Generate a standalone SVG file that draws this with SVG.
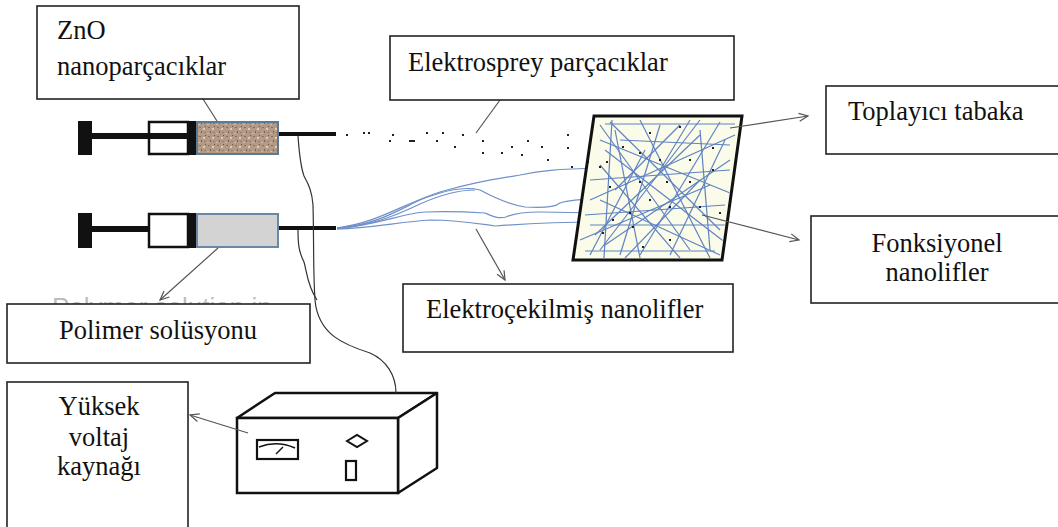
<svg xmlns="http://www.w3.org/2000/svg" width="1058" height="527" viewBox="0 0 1058 527">
  <style>
    .box { fill: #fff; stroke: #222; stroke-width: 1.6; }
    .lbl { font-family: "Liberation Serif", "Times New Roman", serif; font-size: 26.5px; fill: #111; }
    .ghost { font-family: "Liberation Sans", Arial, sans-serif; font-size: 26px; fill: #bdbdbd; }
    .ptr { fill: none; stroke: #555; stroke-width: 1.2; }
    .wire { fill: none; stroke: #333; stroke-width: 1.2; }
    .fib { fill: none; stroke: #6f90c8; stroke-width: 1.2; }
    .mesh line { stroke: #5f83c2; stroke-width: 1.2; }
    .dot { fill: #222; }
    .blk { fill: #111; }
  </style>
  <defs>
    <marker id="head" markerWidth="12" markerHeight="12" refX="10" refY="5" orient="auto" markerUnits="userSpaceOnUse">
      <path d="M1,1 L10,5 L1,9" fill="none" stroke="#555" stroke-width="1.2"/>
    </marker>
    <pattern id="grain" width="9" height="9" patternUnits="userSpaceOnUse">
      <rect width="9" height="9" fill="#b39a86"/>
      <rect x="1" y="1" width="2" height="1" fill="#8c6d58"/>
      <rect x="5" y="2" width="2" height="2" fill="#d9cbbd"/>
      <rect x="3" y="5" width="1" height="2" fill="#7d604d"/>
      <rect x="6" y="6" width="2" height="1" fill="#9a7c67"/>
      <rect x="0" y="7" width="2" height="1" fill="#cdb9a7"/>
      <rect x="7" y="0" width="1" height="1" fill="#6f5443"/>
    </pattern>
    <clipPath id="plateClip">
      <polygon points="596,118 740,118 720,258 575,258"/>
    </clipPath>
    <clipPath id="aboveBox">
      <rect x="0" y="280" width="320" height="24"/>
    </clipPath>
  </defs>

  <!-- faint leftover caption, only its upper edge shows above the solution label -->
  <text class="ghost" x="52" y="316" clip-path="url(#aboveBox)">Polymer solution in</text>

  <!-- syringe loaded with ZnO dispersion -->
  <g id="syringe-zno">
    <rect class="blk" x="78" y="121" width="14" height="34"/>
    <rect class="blk" x="92" y="133" width="100" height="6"/>
    <rect x="149" y="122" width="39" height="32" fill="#fff" stroke="#111" stroke-width="2.5"/>
    <rect class="blk" x="149" y="133" width="40" height="6"/>
    <rect class="blk" x="188" y="121" width="9" height="34"/>
    <rect x="197" y="122" width="81" height="32" fill="url(#grain)" stroke="#5d7a94" stroke-width="2"/>
    <rect class="blk" x="279" y="132" width="57" height="4"/>
  </g>

  <!-- syringe loaded with polymer solution -->
  <g id="syringe-polymer">
    <rect class="blk" x="78" y="213" width="14" height="35"/>
    <rect class="blk" x="92" y="226" width="100" height="6"/>
    <rect x="149" y="214" width="39" height="33" fill="#fff" stroke="#111" stroke-width="2.5"/>
    <rect class="blk" x="188" y="213" width="9" height="35"/>
    <rect x="197" y="214" width="81" height="33" fill="#d3d3d3" stroke="#6b87a8" stroke-width="2"/>
    <rect class="blk" x="279" y="226" width="57" height="4"/>
  </g>

  <!-- electrosprayed droplets -->
  <g id="spray">
    <rect class="dot" x="346" y="134" width="2" height="2"/>
    <rect class="dot" x="363" y="132" width="2" height="2"/>
    <rect class="dot" x="368" y="132" width="2" height="2"/>
    <rect class="dot" x="392" y="134" width="2" height="2"/>
    <rect class="dot" x="389" y="140" width="2" height="2"/>
    <rect class="dot" x="409" y="140" width="6" height="2"/>
    <rect class="dot" x="426" y="132" width="2" height="2"/>
    <rect class="dot" x="442" y="132" width="2" height="2"/>
    <rect class="dot" x="436" y="140" width="2" height="2"/>
    <rect class="dot" x="462" y="134" width="2" height="2"/>
    <rect class="dot" x="482" y="140" width="2" height="2"/>
    <rect class="dot" x="454" y="146" width="2" height="2"/>
    <rect class="dot" x="482" y="152" width="2" height="2"/>
    <rect class="dot" x="501" y="152" width="2" height="2"/>
    <rect class="dot" x="511" y="146" width="2" height="2"/>
    <rect class="dot" x="521" y="154" width="2" height="2"/>
    <rect class="dot" x="527" y="140" width="2" height="2"/>
    <rect class="dot" x="541" y="146" width="2" height="2"/>
    <rect class="dot" x="547" y="159" width="2" height="2"/>
    <rect class="dot" x="567" y="134" width="2" height="2"/>
    <rect class="dot" x="567" y="147" width="2" height="2"/>
    <rect class="dot" x="571" y="166" width="2" height="2"/>
  </g>

  <!-- electrospun jets -->
  <g id="jets">
    <path class="fib" d="M337,228 C380,222 400,205 440,192 C470,183 490,180 520,175 C540,171 555,169 600,168"/>
    <path class="fib" d="M337,228 C375,225 395,212 420,200 C445,190 465,186 480,190 C495,198 510,205 525,207 C540,208 555,207 560,203 C566,200 580,200 600,198"/>
    <path class="fib" d="M337,229 C380,224 405,213 425,212 C450,211 470,212 485,213 C492,216 498,219 506,217 C515,213 525,212 540,212 L600,213"/>
    <path class="fib" d="M337,229 C370,228 400,222 430,220 C460,220 480,224 495,226 C520,224 560,222 600,222"/>
    <path class="fib" d="M337,228 C370,226 395,216 420,204 C440,195 460,190 475,190"/>
  </g>

  <!-- collector plate with deposited fibre mesh -->
  <g id="collector">
    <polygon points="594,116 742,116 722,260 573,260" fill="#fbfbe9"/>
    <g class="mesh" clip-path="url(#plateClip)">
      <line x1="600" y1="125" x2="690" y2="250"/>
      <line x1="610" y1="122" x2="720" y2="230"/>
      <line x1="700" y1="120" x2="600" y2="250"/>
      <line x1="735" y1="135" x2="590" y2="200"/>
      <line x1="615" y1="130" x2="640" y2="258"/>
      <line x1="660" y1="125" x2="620" y2="255"/>
      <line x1="720" y1="122" x2="640" y2="255"/>
      <line x1="590" y1="180" x2="730" y2="170"/>
      <line x1="585" y1="215" x2="725" y2="205"/>
      <line x1="580" y1="240" x2="710" y2="185"/>
      <line x1="605" y1="150" x2="735" y2="250"/>
      <line x1="640" y1="120" x2="710" y2="258"/>
      <line x1="595" y1="235" x2="700" y2="135"/>
      <line x1="600" y1="200" x2="720" y2="255"/>
      <line x1="620" y1="140" x2="730" y2="145"/>
      <line x1="700" y1="130" x2="710" y2="250"/>
      <line x1="645" y1="150" x2="590" y2="255"/>
      <line x1="585" y1="251" x2="715" y2="251"/>
      <line x1="600" y1="165" x2="680" y2="258"/>
      <line x1="730" y1="160" x2="605" y2="245"/>
      <line x1="660" y1="170" x2="690" y2="120"/>
      <line x1="590" y1="225" x2="735" y2="225"/>
      <line x1="615" y1="190" x2="680" y2="125"/>
      <line x1="670" y1="255" x2="725" y2="140"/>
      <line x1="600" y1="140" x2="735" y2="195"/>
      <line x1="625" y1="258" x2="700" y2="180"/>
      <line x1="605" y1="124" x2="735" y2="124"/>
      <line x1="612" y1="120" x2="604" y2="258"/>
    </g>
    <g class="dot">
      <rect x="679" y="126" width="2" height="2"/>
      <rect x="649" y="132" width="2" height="2"/>
      <rect x="622" y="146" width="2" height="2"/>
      <rect x="639" y="152" width="2" height="2"/>
      <rect x="659" y="159" width="2" height="2"/>
      <rect x="689" y="159" width="2" height="2"/>
      <rect x="606" y="161" width="2" height="2"/>
      <rect x="712" y="147" width="2" height="2"/>
      <rect x="712" y="169" width="2" height="2"/>
      <rect x="639" y="181" width="2" height="2"/>
      <rect x="666" y="181" width="2" height="2"/>
      <rect x="689" y="181" width="2" height="2"/>
      <rect x="649" y="199" width="2" height="2"/>
      <rect x="669" y="206" width="2" height="2"/>
      <rect x="699" y="206" width="2" height="2"/>
      <rect x="719" y="212" width="2" height="2"/>
      <rect x="629" y="212" width="2" height="2"/>
      <rect x="612" y="219" width="2" height="2"/>
      <rect x="602" y="232" width="2" height="2"/>
      <rect x="632" y="226" width="2" height="2"/>
      <rect x="669" y="239" width="2" height="2"/>
      <rect x="642" y="246" width="2" height="2"/>
      <rect x="609" y="186" width="2" height="2"/>
      <rect x="587" y="161" width="2" height="2"/>
      <rect x="599" y="166" width="2" height="2"/>
    </g>
    <polygon points="594,116 742,116 722,260 573,260" fill="none" stroke="#111" stroke-width="3"/>
  </g>

  <!-- high voltage supply -->
  <g id="power-supply">
    <polygon points="237,418 275,393 437,393 398,418" fill="#fff" stroke="#111" stroke-width="2.5" stroke-linejoin="round"/>
    <polygon points="398,418 437,393 437,468 398,493" fill="#fff" stroke="#111" stroke-width="2.5" stroke-linejoin="round"/>
    <rect x="237" y="418" width="161" height="75" fill="#fff" stroke="#111" stroke-width="2.5"/>
    <rect x="257" y="440" width="41" height="19" fill="#fff" stroke="#111" stroke-width="2.2"/>
    <path d="M259,447 Q277,440 295,448" fill="none" stroke="#111" stroke-width="1.5"/>
    <line x1="276" y1="454" x2="283" y2="447" stroke="#111" stroke-width="1.5"/>
    <polygon points="347,441 357,435 367,441 357,447" fill="#fff" stroke="#111" stroke-width="2"/>
    <rect x="346" y="461" width="10" height="19" fill="#fff" stroke="#111" stroke-width="2.2"/>
  </g>

  <!-- connectors: leads and pointer arrows -->
  <g id="connectors">
    <path class="wire" d="M298,136 C299,150 300,165 304,176 C309,185 312,192 313,205 C314,240 313,270 315,300 C318,335 345,345 370,353 C386,360 396,375 396,393"/>
    <path class="wire" d="M298,230 C298,245 299,252 304,262 C307,272 307,285 317,300"/>
    <line class="ptr" x1="203" y1="99" x2="217" y2="121"/>
    <line class="ptr" x1="500" y1="100" x2="476" y2="133"/>
    <line class="ptr" x1="730" y1="128" x2="808" y2="116" marker-end="url(#head)"/>
    <line class="ptr" x1="702" y1="215" x2="799" y2="240" marker-end="url(#head)"/>
    <line class="ptr" x1="476" y1="229" x2="505" y2="280" marker-end="url(#head)"/>
    <line class="ptr" x1="218" y1="248" x2="160" y2="300" marker-end="url(#head)"/>
    <line class="ptr" x1="248" y1="433" x2="190" y2="415" marker-end="url(#head)"/>
  </g>

  <g id="label-zno">
    <rect class="box" x="37" y="6" width="262" height="93"/>
    <text class="lbl" x="57" y="39">ZnO</text>
    <text class="lbl" x="57" y="75">nanoparçacıklar</text>
  </g>

  <g id="label-spray">
    <rect class="box" x="390" y="36" width="344" height="64"/>
    <text class="lbl" x="408" y="71">Elektrosprey parçacıklar</text>
  </g>

  <g id="label-collector">
    <rect class="box" x="826" y="86" width="240" height="68"/>
    <text class="lbl" x="848" y="120">Toplayıcı tabaka</text>
  </g>

  <g id="label-functional">
    <rect class="box" x="811" y="216" width="260" height="87"/>
    <text class="lbl" x="937" y="252" text-anchor="middle">Fonksiyonel</text>
    <text class="lbl" x="937" y="281" text-anchor="middle">nanolifler</text>
  </g>

  <g id="label-spun">
    <rect class="box" x="403" y="284" width="330" height="68"/>
    <text class="lbl" x="426" y="318">Elektroçekilmiş nanolifler</text>
  </g>

  <g id="label-solution">
    <rect class="box" x="7" y="304" width="303" height="59"/>
    <text class="lbl" x="59" y="339">Polimer solüsyonu</text>
  </g>

  <g id="label-voltage">
    <rect class="box" x="7" y="382" width="181" height="150"/>
    <text class="lbl" x="99" y="415" text-anchor="middle">Yüksek</text>
    <text class="lbl" x="99" y="446" text-anchor="middle">voltaj</text>
    <text class="lbl" x="99" y="475" text-anchor="middle">kaynağı</text>
  </g>
</svg>
